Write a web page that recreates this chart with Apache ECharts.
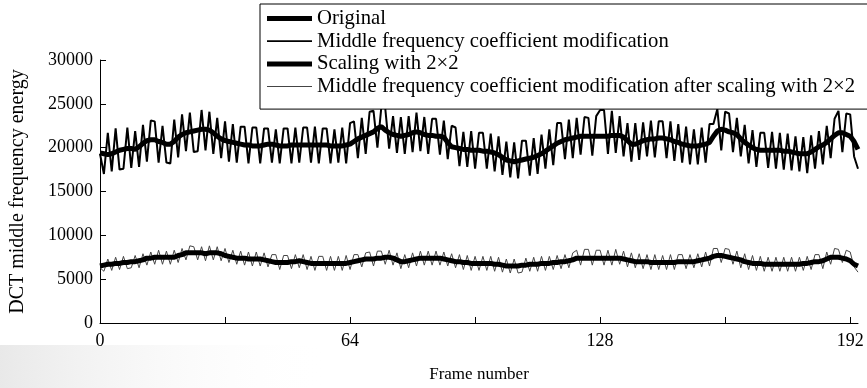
<!DOCTYPE html>
<html>
<head>
<meta charset="utf-8">
<script src="https://cdn.jsdelivr.net/npm/echarts@6/dist/echarts.min.js"></script>
<style>
html,body{margin:0;padding:0;background:#fff;}
#dctChart{width:867px;height:388px;}
</style>
</head>
<body>
<div id="dctChart"></div>
<script>
// DCT middle frequency energy per frame
var original = [19400,19300,19200,19300,19500,19700,19800,19900,19900,19800,
20100,20500,20800,20900,20900,20700,20600,20400,20400,20700,
21200,21500,21700,21800,21900,22000,22100,22100,22000,21700,
21300,21000,20800,20700,20600,20500,20400,20300,20300,20200,
20200,20200,20300,20400,20400,20300,20200,20200,20200,20300,
20300,20300,20300,20300,20300,20300,20300,20300,20300,20200,
20200,20200,20200,20300,20400,20700,21000,21200,21400,21600,
21800,22200,22400,22000,21700,21500,21400,21300,21400,21500,
21700,21800,21700,21500,21400,21400,21300,21300,21200,20600,
20100,20000,19900,19800,19800,19700,19700,19700,19600,19600,
19500,19400,19200,18900,18600,18500,18400,18500,18600,18700,
18800,18900,19100,19300,19600,19900,20200,20500,20700,20900,
21000,21100,21200,21300,21300,21300,21300,21300,21300,21300,
21300,21400,21400,21400,21200,20800,20400,20400,20600,20800,
20900,21000,21000,21100,21100,21000,20900,20700,20600,20400,
20300,20200,20200,20200,20300,20400,20600,21300,21900,22100,
22000,21800,21700,21500,21000,20600,20300,20000,19800,19700,
19700,19700,19700,19700,19700,19600,19600,19500,19400,19300,
19300,19300,19500,19800,20100,20300,20600,21000,21400,21700,
21700,21500,21300,20700,19800];

var midFreqMod = [19300,17000,21700,17300,22200,17500,17600,22300,17700,21900,
17800,22600,18400,23100,23000,18300,22500,18300,18200,23200,
18900,23800,19600,24000,19500,19600,24300,19700,24100,19300,
23400,18800,23000,18400,22700,18300,22400,22400,18200,22300,
22300,18200,22200,22200,18300,22100,18200,22200,22200,18200,
22300,18300,22300,22300,18300,22400,18200,22200,22200,18200,
22100,18300,22300,18200,22800,23000,18800,23400,19300,24100,
24200,20000,24600,24500,19900,23600,19400,23500,19300,23600,
19500,24000,19600,23500,19300,23300,23300,19200,23100,18700,
22500,22300,17900,21800,17800,21900,17600,21700,21700,17600,
21600,17300,21300,16900,20700,16600,20600,16500,20800,20800,
16800,21100,17000,21500,17600,22100,18000,22800,22800,18700,
23200,18800,23400,19200,23500,23400,19100,23600,24300,24300,
19300,24200,19400,23600,19000,22800,18400,22800,18600,22900,
19000,23100,18900,23000,23000,18800,23000,18500,22700,18300,
22400,18100,22100,18100,22300,18300,22700,22700,24400,19700,
24100,23900,19500,23400,19000,22600,18200,22000,17800,21700,
21700,17700,21800,17600,21700,17500,21600,17400,21300,17300,
21200,17100,21400,17600,21900,18100,22500,18800,23300,24200,
19500,23900,23800,19000,17600];

var scaled = [6500,6600,6700,6700,6800,6800,6900,6900,7000,7000,
7100,7200,7400,7400,7500,7500,7500,7500,7500,7500,
7700,7800,8000,8000,8000,8000,8000,7900,8000,8000,
8000,7900,7700,7600,7500,7400,7400,7400,7300,7300,
7300,7300,7200,7100,7000,6900,6900,6900,6900,7000,
7000,7100,7000,6900,6800,6800,6800,6800,6800,6800,
6800,6800,6800,6800,6900,7000,7100,7200,7300,7300,
7300,7400,7400,7500,7500,7400,7200,7000,7000,7100,
7200,7300,7400,7400,7400,7400,7400,7400,7300,7200,
7100,7000,7000,6900,6900,6800,6800,6800,6800,6800,
6800,6700,6700,6600,6500,6500,6500,6500,6600,6600,
6700,6700,6700,6800,6800,6800,6900,6900,7000,7000,
7100,7200,7400,7400,7400,7400,7400,7400,7400,7400,
7400,7400,7400,7400,7300,7200,7100,7000,7000,7000,
7000,6900,6900,6900,6900,6900,6900,6900,7000,7000,
7000,7000,7000,7100,7200,7300,7400,7600,7700,7700,
7600,7500,7400,7300,7200,7000,6900,6800,6800,6800,
6700,6700,6700,6700,6700,6700,6700,6700,6700,6700,
6800,6800,6900,7000,7000,7100,7300,7500,7500,7500,
7400,7300,7100,6700,6500];

var scaledMod = [6300,5900,7300,6000,7500,6100,7600,6200,6300,7700,
6300,7900,6600,8100,6700,8300,6700,8200,6700,8300,
6900,8500,7200,8800,8700,7200,8700,7100,8800,7200,
8700,7100,8500,6900,8300,6700,8200,6600,8100,6500,
8100,6500,8000,6400,7800,7800,6100,7700,7700,6200,
7800,6300,7800,6100,7600,6000,7600,7600,6000,7600,
6000,7600,6000,7700,6100,7800,7800,6400,8000,8100,
6500,8200,8200,6700,8300,6600,8000,6200,7800,6300,
8000,6500,8200,6600,8200,6600,8200,6600,8100,6500,
7900,6300,7800,6100,7700,6000,7600,6000,7600,6000,
7600,5900,7500,5800,7300,5700,7300,5700,5800,7400,
5900,7500,5900,7600,6000,7600,6100,7700,6200,7800,
6300,8000,8300,6600,8400,8400,6600,8300,8300,6600,
8300,6600,8400,6700,8200,6400,8000,6300,7900,6200,
7800,6100,7800,6100,7700,6100,7800,6100,7800,7800,
6200,7800,6300,7900,6400,8100,6500,8500,8500,6900,
8500,8400,6700,8200,6300,7900,6100,7700,6000,7600,
5900,7500,5900,7500,5900,7500,5900,7500,5900,7500,
6000,7600,6100,7800,7800,6200,8100,6700,8500,8400,
6900,8300,8100,6400,5800];

var seriesNames = ['Original', 'Middle frequency coefficient modification', 'Scaling with 2\u00d72', 'Middle frequency coefficient modification after scaling with 2\u00d72'];
var xTicks = [0, 32, 64, 96, 128, 160, 192];
var xLabels = [0, 64, 128, 192];

function pairs(arr) {
    return arr.map(function (v, i) { return [i, v]; });
}

var serif = "'Liberation Serif', 'Times New Roman', serif";
var myChart = echarts.init(document.getElementById('dctChart'));

var option = {
    backgroundColor: '#fff',
    animation: false,
    textStyle: { fontFamily: serif },
    // faint scan shading in the lower left corner
    graphic: [{
        type: 'rect',
        z: -10,
        shape: { x: 0, y: 345, width: 330, height: 43 },
        style: {
            fill: {
                type: 'linear', x: 0, y: 0, x2: 1, y2: 0,
                colorStops: [{ offset: 0, color: 'rgba(205,205,205,0.45)' }, { offset: 1, color: 'rgba(255,255,255,0)' }]
            }
        }
    }],
    legend: {
        orient: 'vertical',
        left: 260,
        top: 4,
        padding: [4, 14, 12, 7],
        itemGap: 1.7,
        itemWidth: 45,
        itemHeight: 21,
        borderColor: '#000',
        borderWidth: 1,
        borderRadius: 0,
        backgroundColor: '#fff',
        textStyle: { fontFamily: serif, fontSize: 20.7, color: '#000' },
        data: [
            { name: seriesNames[0], icon: 'path://M0,0H45V5H0Z' },
            { name: seriesNames[1], icon: 'path://M0,0H45V1.8H0Z' },
            { name: seriesNames[2], icon: 'path://M0,0H45V5H0Z' },
            { name: seriesNames[3], icon: 'path://M0,0H45V1H0Z' }
        ]
    },
    grid: {
        left: 100,
        right: 9,
        top: 60,
        bottom: 57,
        containLabel: false
    },
    xAxis: {
        type: 'value',
        min: 0,
        max: 194,
        interval: 32,
        name: 'Frame number',
        nameLocation: 'middle',
        nameGap: 43,
        nameTextStyle: { fontFamily: serif, fontSize: 17, color: '#000' },
        axisLine: { lineStyle: { color: '#000', width: 1 } },
        axisTick: { inside: true, length: 6, customValues: xTicks, lineStyle: { color: '#000' } },
        axisLabel: { customValues: xLabels, margin: 9, fontFamily: serif, fontSize: 18, color: '#000' },
        splitLine: { show: false }
    },
    yAxis: {
        type: 'value',
        min: 0,
        max: 30000,
        interval: 5000,
        name: 'DCT middle frequency energy',
        nameLocation: 'middle',
        nameGap: 72,
        nameTextStyle: { fontFamily: serif, fontSize: 20, color: '#000' },
        axisLine: { show: true, lineStyle: { color: '#000', width: 1 } },
        axisTick: { show: true, inside: true, length: 6, lineStyle: { color: '#000' } },
        axisLabel: {
            margin: 7, fontFamily: serif, fontSize: 18, color: '#000',
            formatter: function (v) { return String(v); }
        },
        splitLine: { show: false }
    },
    series: [{
        name: seriesNames[0],
        type: 'line',
        symbol: 'none',
        z: 4,
        color: '#000',
        lineStyle: { color: '#000', width: 5 },
        data: pairs(original)
    }, {
        name: seriesNames[1],
        type: 'line',
        symbol: 'none',
        z: 3,
        color: '#000',
        lineStyle: { color: '#000', width: 2 },
        data: pairs(midFreqMod)
    }, {
        name: seriesNames[2],
        type: 'line',
        symbol: 'none',
        z: 4,
        color: '#000',
        lineStyle: { color: '#000', width: 5 },
        data: pairs(scaled)
    }, {
        name: seriesNames[3],
        type: 'line',
        symbol: 'none',
        z: 3,
        color: '#444',
        lineStyle: { color: '#444', width: 1 },
        data: pairs(scaledMod)
    }]
};
myChart.setOption(option);
</script>
</body>
</html>
